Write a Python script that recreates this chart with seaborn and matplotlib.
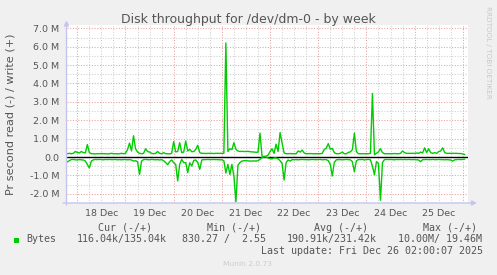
import numpy as np
import pandas as pd
import matplotlib
matplotlib.use("Agg")
import matplotlib.pyplot as plt
import seaborn as sns
from matplotlib.patches import Rectangle
from matplotlib.ticker import FixedLocator, FuncFormatter

# ---------------- data (MB/s, hourly, Dec 17 18:00 -> Dec 26 01:00) ----------------
day_labels = ["18 Dec", "19 Dec", "20 Dec", "21 Dec", "22 Dec", "23 Dec", "24 Dec", "25 Dec"]

write_dec17 = [0.18, 0.18, 0.20, 0.18, 0.20, 0.30]
write_dec18 = [0.25, 0.22, 0.30, 0.24, 0.22, 0.68, 0.24, 0.18, 0.18, 0.17, 0.18, 0.18,
               0.19, 0.18, 0.18, 0.17, 0.18, 0.20, 0.18, 0.18, 0.17, 0.18, 0.20, 0.18]
write_dec19 = [0.20, 0.40, 0.76, 0.33, 1.16, 0.45, 0.27, 0.20, 0.18, 0.20, 0.45, 0.30,
               0.27, 0.20, 0.18, 0.20, 0.30, 0.20, 0.18, 0.24, 0.18, 0.18, 0.17, 0.20]
write_dec20 = [0.84, 0.28, 0.30, 0.78, 0.24, 0.27, 0.87, 0.33, 0.42, 0.29, 0.30, 0.42,
               0.64, 0.24, 0.20, 0.20, 0.19, 0.20, 0.20, 0.20, 0.19, 0.20, 0.20, 0.20]
write_dec21 = [0.20, 0.20, 6.20, 0.30, 0.45, 0.40, 0.78, 0.42, 0.33, 0.30, 0.31, 0.30,
               0.30, 0.31, 0.29, 0.28, 0.27, 0.26, 0.26, 1.30, 0.05, 0.03, 0.05, 0.10]
write_dec22 = [0.30, 0.45, 0.20, 0.70, 0.30, 1.33, 0.75, 0.22, 0.18, 0.18, 0.19, 0.18,
               0.18, 0.18, 0.33, 0.27, 0.38, 0.22, 0.18, 0.18, 0.19, 0.18, 0.18, 0.18]
write_dec23 = [0.18, 0.18, 0.20, 0.42, 0.48, 0.73, 0.42, 0.47, 0.24, 0.18, 0.18, 0.20,
               0.27, 0.18, 0.18, 0.25, 0.28, 0.40, 1.30, 0.30, 0.18, 0.18, 0.18, 0.18]
write_dec24 = [0.18, 0.18, 0.20, 3.45, 0.13, 0.20, 0.28, 0.45, 0.24, 0.18, 0.18, 0.18,
               0.18, 0.18, 0.19, 0.18, 0.18, 0.20, 0.33, 0.24, 0.20, 0.20, 0.20, 0.20]
write_dec25 = [0.20, 0.22, 0.20, 0.27, 0.22, 0.50, 0.24, 0.45, 0.24, 0.20, 0.24, 0.20,
               0.30, 0.33, 0.50, 0.24, 0.20, 0.20, 0.20, 0.20, 0.20, 0.20, 0.19, 0.19]
write_dec26 = [0.17, 0.135]

read_dec17 = [-0.20, -0.27, -0.20, -0.14, -0.13, -0.15]
read_dec18 = [-0.16, -0.14, -0.15, -0.16, -0.22, -0.40, -0.60, -0.22, -0.15, -0.13, -0.14, -0.13,
              -0.14, -0.15, -0.13, -0.14, -0.13, -0.14, -0.14, -0.13, -0.15, -0.14, -0.15, -0.14]
read_dec19 = [-0.14, -0.15, -0.14, -0.16, -0.22, -0.20, -0.25, -0.95, -0.22, -0.14, -0.13, -0.14,
              -0.15, -0.13, -0.14, -0.15, -0.14, -0.16, -0.14, -0.20, -0.30, -0.42, -0.25, -0.16]
read_dec20 = [-0.31, -0.40, -1.30, -0.40, -0.13, -0.31, -0.30, -0.85, -0.31, -0.49, -0.18, -0.16,
              -0.30, -0.67, -0.16, -0.14, -0.14, -0.13, -0.14, -0.14, -0.13, -0.14, -0.14, -0.15]
read_dec21 = [-0.15, -0.20, -0.87, -0.40, -0.95, -0.40, -1.04, -2.44, -0.45, -0.30, -0.22, -0.20,
              -0.20, -0.21, -0.22, -0.22, -0.21, -0.22, -0.20, -0.12, -0.03, 0.01, 0.00, -0.05]
read_dec22 = [-0.08, -0.10, -0.05, -0.05, -0.10, -0.20, -0.35, -1.25, -0.30, -0.16, -0.22, -0.14,
              -0.15, -0.14, -0.15, -0.14, -0.13, -0.14, -0.14, -0.15, -0.14, -0.13, -0.14, -0.14]
read_dec23 = [-0.14, -0.13, -0.15, -0.14, -0.14, -0.20, -0.40, -1.03, -0.30, -0.15, -0.14, -0.14,
              -0.15, -0.14, -0.13, -0.14, -0.15, -0.25, -0.80, -0.20, -0.14, -0.14, -0.13, -0.16]
read_dec24 = [-0.14, -0.13, -0.15, -0.50, -0.96, -0.25, -0.35, -2.35, -0.30, -0.14, -0.13, -0.14,
              -0.13, -0.14, -0.15, -0.13, -0.14, -0.13, -0.14, -0.13, -0.14, -0.13, -0.14, -0.14]
read_dec25 = [-0.14, -0.15, -0.16, -0.25, -0.14, -0.14, -0.13, -0.14, -0.14, -0.13, -0.14, -0.14,
              -0.13, -0.14, -0.14, -0.15, -0.14, -0.15, -0.16, -0.22, -0.15, -0.14, -0.13, -0.14]
read_dec26 = [-0.13, -0.116]

legend_headers = ["Cur (-/+)", "Min (-/+)", "Avg (-/+)", "Max (-/+)"]
legend_values = ["116.04k/135.04k", "830.27 /  2.55", "190.91k/231.42k", "10.00M/ 19.46M"]

write = (write_dec17 + write_dec18 + write_dec19 + write_dec20 + write_dec21 +
         write_dec22 + write_dec23 + write_dec24 + write_dec25 + write_dec26)
read = (read_dec17 + read_dec18 + read_dec19 + read_dec20 + read_dec21 +
        read_dec22 + read_dec23 + read_dec24 + read_dec25 + read_dec26)
hours = np.arange(-6, -6 + len(write))  # hours relative to Dec 18 00:00

df = pd.DataFrame({"hour": hours, "write": write, "read": read})

# ---------------- figure ----------------
sns.set_style("white")
W, H = 497, 275
BG = "#F0F0F0"
TXT = "#555555"
GREEN = "#00CC00"
AXC = "#C4C4F2"

fig = plt.figure(figsize=(W / 100, H / 100), dpi=100, facecolor=BG)
L, R, T, B = 66.5, 468, 25, 203
ax = fig.add_axes([L / W, 1 - B / H, (R - L) / W, (B - T) / H])
ax.set_facecolor("white")
for s in ax.spines.values():
    s.set_visible(False)

ax.set_xlim(-5.38, 194.6)
ax.set_ylim(-2.5, 7.18)

ax.xaxis.set_major_locator(FixedLocator(np.arange(0, 195, 24)))
ax.xaxis.set_minor_locator(FixedLocator(np.arange(-6, 195, 6)))
ax.yaxis.set_major_locator(FixedLocator(np.arange(-2, 8, 1)))
ax.yaxis.set_minor_locator(FixedLocator(np.arange(-2.5, 7.5, 0.5)))

ax.xaxis.set_major_formatter(FuncFormatter(lambda v, p: ""))
def minor_fmt(v, p):
    k = int(round(v))
    if k % 24 == 12:
        d = k // 24
        if 0 <= d < len(day_labels):
            return day_labels[d]
    return ""
ax.xaxis.set_minor_formatter(FuncFormatter(minor_fmt))
ax.yaxis.set_major_formatter(FuncFormatter(lambda v, p: "0.0" if abs(v) < 1e-9 else f"{v:.1f} M"))
ax.yaxis.set_minor_formatter(FuncFormatter(lambda v, p: ""))

ax.tick_params(axis="both", which="major", length=2.2, width=0.7, color="#E08080",
               labelsize=6.8, labelcolor=TXT)
ax.tick_params(axis="y", which="major", pad=3.2)
ax.tick_params(axis="x", which="minor", length=1.2, width=0.6, color="#C8C8C8",
               labelsize=6.8, labelcolor=TXT, pad=3.0)
ax.tick_params(axis="y", which="minor", length=1.2, width=0.6, color="#C8C8C8")

ax.grid(which="major", color="#E9A0A0", linestyle=(0, (1, 1.6)), linewidth=0.75)
ax.grid(which="minor", color="#CFCFCF", linestyle=(0, (1, 1.6)), linewidth=0.75)
ax.set_axisbelow(True)

ax.axhline(0, color="black", lw=1.0, zorder=2)
sns.lineplot(data=df, x="hour", y="write", color=GREEN, lw=1.0, ax=ax, zorder=3)
sns.lineplot(data=df, x="hour", y="read", color=GREEN, lw=1.0, ax=ax, zorder=3)
ax.set_xlabel("")
ax.set_ylabel("")

# axis lines with arrows (figure pixels, origin bottom-left)
ap = dict(arrowstyle="-|>", color=AXC, lw=1.0, mutation_scale=7, shrinkA=0, shrinkB=0)
ax.annotate("", xy=(L, H - 20.5), xytext=(L, H - 205), xycoords="figure pixels",
            textcoords="figure pixels", arrowprops=ap, annotation_clip=False)
ax.annotate("", xy=(477, H - B), xytext=(63, H - B), xycoords="figure pixels",
            textcoords="figure pixels", arrowprops=ap, annotation_clip=False)

# texts
def fx(x):
    return x / W
def fy(y):
    return 1 - y / H

fig.text(fx(248.5), fy(19.5), "Disk throughput for /dev/dm-0 - by week", ha="center",
         va="center", fontsize=9, color=TXT)
fig.text(fx(11), fy(114), "Pr second read (-) / write (+)", rotation=90, ha="center",
         va="center", fontsize=8.1, color=TXT)
fig.text(fx(488), fy(52), "RRDTOOL / TOBI OETIKER", rotation=270, ha="center",
         va="center", fontsize=5.2, color="#C8C8C8")

mono = dict(family="DejaVu Sans Mono", fontsize=7.2, color=TXT)
for hx, htxt in zip([125, 234, 341.5, 450], legend_headers):
    fig.text(fx(hx), fy(227.7), htxt, ha="center", va="center", **mono)
fig.text(fx(26.7), fy(239.3), "Bytes", ha="left", va="center", **mono)
for vx, vtxt in zip([77, 182, 287, 398], legend_values):
    fig.text(fx(vx), fy(239.3), vtxt, ha="left", va="center", **mono)
fig.text(fx(483), fy(251.2), "Last update: Fri Dec 26 02:00:07 2025", ha="right",
         va="center", **mono)
fig.add_artist(Rectangle((fx(14), fy(242.5)), 5 / W, 5 / H, transform=fig.transFigure,
                         facecolor=GREEN, edgecolor="none"))
fig.text(fx(247.5), fy(264), "Munin 2.0.73", ha="center", va="center", fontsize=5.4,
         color="#CCCCCC")

fig.savefig("out.png", dpi=100, facecolor=BG)
